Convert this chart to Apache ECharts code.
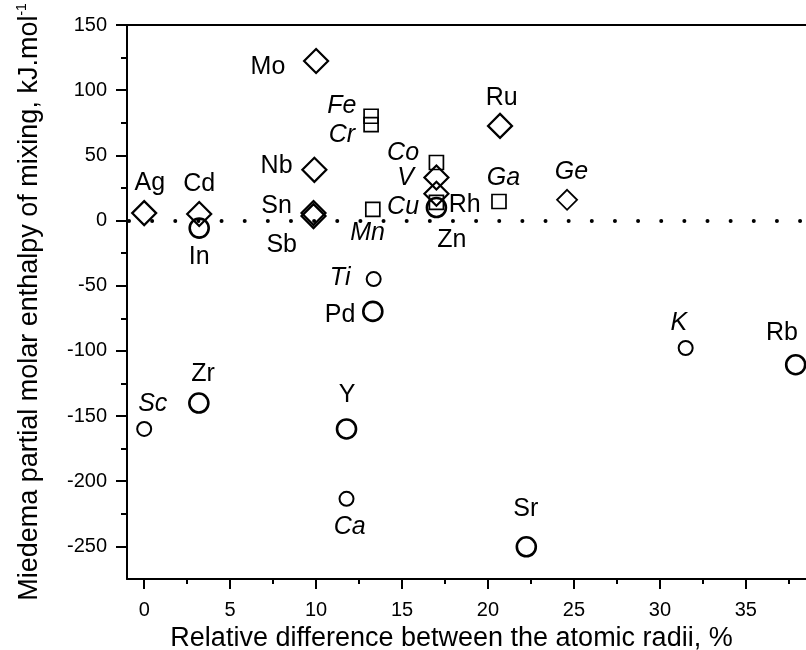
<!DOCTYPE html>
<html><head><meta charset="utf-8">
<script src="https://cdn.jsdelivr.net/npm/echarts@6/dist/echarts.min.js"></script>
<style>html,body{margin:0;padding:0;background:#fff}#c{width:806px;height:650px}</style>
</head><body><div id="c"></div>
<script>
const FONT = "'Liberation Sans', Arial, Helvetica, sans-serif";

// Markers: [x (%), y (kJ/mol), element]
const bigDiamonds = [[0,5.7,'Ag'],[3.2,5.0,'Cd'],[10,122.4,'Mo'],[9.9,38.9,'Nb'],[9.85,5.8,'Sn'],[9.85,3.4,'Sb'],[20.7,72.6,'Ru'],[17,33,'V'],[17,20.5,'Rh']];
const smallDiamonds = [[24.6,15.9,'Ge']];
const squares = [[13.2,80,'Fe'],[13.2,73.6,'Cr'],[17,44.5,'Co'],[13.3,8.5,'Mn'],[17,14,'Cu'],[20.64,14.6,'Ga']];
const bigCircles = [[3.2,-5.8,'In'],[17,10,'Zn'],[13.3,-69.7,'Pd'],[3.18,-140,'Zr'],[11.77,-159.9,'Y'],[22.23,-250.3,'Sr'],[37.9,-110.6,'Rb']];
const smallCircles = [[13.35,-44.9,'Ti'],[0,-159.9,'Sc'],[11.77,-213.5,'Ca'],[31.5,-97.8,'K']];

// Label anchors (data coordinates): [x, y, text]
const uprightLabels = [[7.2,118,'Mo'],[7.7,41.4,'Nb'],[0.33,28.7,'Ag'],[3.2,27.9,'Cd'],[7.7,10.7,'Sn'],[8.0,-18.6,'Sb'],[3.2,-28,'In'],[18.65,12,'Rh'],[17.9,-14.8,'Zn'],[20.8,93.8,'Ru'],[11.4,-72.3,'Pd'],[3.43,-117.5,'Zr'],[11.8,-134.3,'Y'],[22.2,-221.7,'Sr'],[37.1,-86.3,'Rb']];
const italicLabels = [[11.5,87.9,'Fe'],[11.5,65.7,'Cr'],[15.06,51.6,'Co'],[15.2,32.5,'V'],[15.06,10.3,'Cu'],[13.0,-9.7,'Mn'],[20.9,32.5,'Ga'],[24.85,37.5,'Ge'],[11.4,-44,'Ti'],[0.5,-140.5,'Sc'],[11.96,-235.2,'Ca'],[31.1,-78.3,'K']];

// Axes
const xMin = -1, xMax = 38.5, yMin = -275, yMax = 150;
const xMajorTicks = [0,5,10,15,20,25,30,35];
const xMinorTicks = [2.5,7.5,12.5,17.5,22.5,27.5,32.5,37.5];
const yMajorTicks = [-250,-200,-150,-100,-50,0,50,100,150];
const yMinorTicks = [-225,-175,-125,-75,-25,25,75,125];
const zeroLevel = 0;

const chart = echarts.init(document.getElementById('c'), null, {renderer:'canvas'});
const black = '#000';
const lineW = 2;

function markerSeries(data, symbol, size, bw){
  return {type:'scatter', xAxisIndex:0, yAxisIndex:0, symbol:symbol, symbolSize:size,
    data:data.map(d=>({value:[d[0],d[1]], name:d[2]})),
    itemStyle:{color:'rgba(0,0,0,0)', borderColor:black, borderWidth:bw, opacity:1},
    emphasis:{disabled:true}, silent:true, z:3};
}
function labelSeries(data, italic){
  return {type:'scatter', xAxisIndex:0, yAxisIndex:0, symbol:'circle', symbolSize:1,
    itemStyle:{color:'rgba(0,0,0,0)', opacity:1},
    data:data.map(d=>({value:[d[0],d[1]], name:d[2]})),
    label:{show:true, position:'inside', formatter:p=>p.name, color:black, opacity:1,
      textBorderWidth:0, fontFamily:FONT, fontSize:25, fontStyle: italic?'italic':'normal'},
    emphasis:{disabled:true}, silent:true, z:4};
}

const option = {
  animation:false,
  backgroundColor:'#fff',
  grid:{left:127, right:0, top:25, bottom:71, containLabel:false, outerBoundsMode:'none'},
  xAxis:[
    {type:'value', min:xMin, max:xMax, position:'bottom',
     axisLine:{show:true, onZero:false, lineStyle:{color:black, width:lineW}},
     axisTick:{show:true, inside:false, length:10, customValues:xMajorTicks, lineStyle:{color:black, width:lineW}},
     axisLabel:{show:true, customValues:xMajorTicks, margin:21, color:black, fontFamily:FONT, fontSize:20},
     splitLine:{show:false},
     name:'Relative difference between the atomic radii, %', nameLocation:'middle', nameGap:46,
     nameTextStyle:{color:black, fontFamily:FONT, fontSize:27, padding:[0,30,0,0]}},
    {type:'value', min:xMin, max:xMax, position:'bottom',
     axisLine:{show:false, onZero:false},
     axisTick:{show:true, length:5, customValues:xMinorTicks, lineStyle:{color:black, width:lineW}},
     axisLabel:{show:false}, splitLine:{show:false}},
    {type:'value', min:xMin, max:xMax, position:'top',
     axisLine:{show:true, onZero:false, lineStyle:{color:black, width:lineW}},
     axisTick:{show:false}, axisLabel:{show:false}, splitLine:{show:false}}
  ],
  yAxis:[
    {type:'value', min:yMin, max:yMax, position:'left',
     axisLine:{show:true, onZero:false, lineStyle:{color:black, width:lineW}},
     axisTick:{show:true, length:11, customValues:yMajorTicks, lineStyle:{color:black, width:lineW}},
     axisLabel:{show:true, customValues:yMajorTicks, margin:20, color:black, fontFamily:FONT, fontSize:20},
     splitLine:{show:false},
     name:'Miedema partial molar enthalpy of mixing, kJ.mol{sup|-1}', nameLocation:'middle', nameGap:82,
     nameTextStyle:{color:black, fontFamily:FONT, fontSize:27,
       rich:{sup:{fontSize:14, fontFamily:FONT, color:black, padding:[0,0,16,0]}}}},
    {type:'value', min:yMin, max:yMax, position:'left',
     axisLine:{show:false, onZero:false},
     axisTick:{show:true, length:6, customValues:yMinorTicks, lineStyle:{color:black, width:lineW}},
     axisLabel:{show:false}, splitLine:{show:false}}
  ],
  series:[
    {type:'line', xAxisIndex:0, yAxisIndex:0, data:[], silent:true,
     markLine:{silent:true, symbol:'none', label:{show:false}, animation:false,
       lineStyle:{color:black, width:4, type:[0,23.14], cap:'round', dashOffset:-2},
       data:[{yAxis:zeroLevel}]}},
    markerSeries(bigDiamonds, 'diamond', 24, 2.2),
    markerSeries(smallDiamonds, 'diamond', 20, 1.8),
    markerSeries(squares, 'rect', 14, 1.7),
    markerSeries(bigCircles, 'circle', 19, 2.6),
    markerSeries(smallCircles, 'circle', 14, 2),
    labelSeries(uprightLabels, false),
    labelSeries(italicLabels, true)
  ]
};
chart.setOption(option);
</script></body></html>
